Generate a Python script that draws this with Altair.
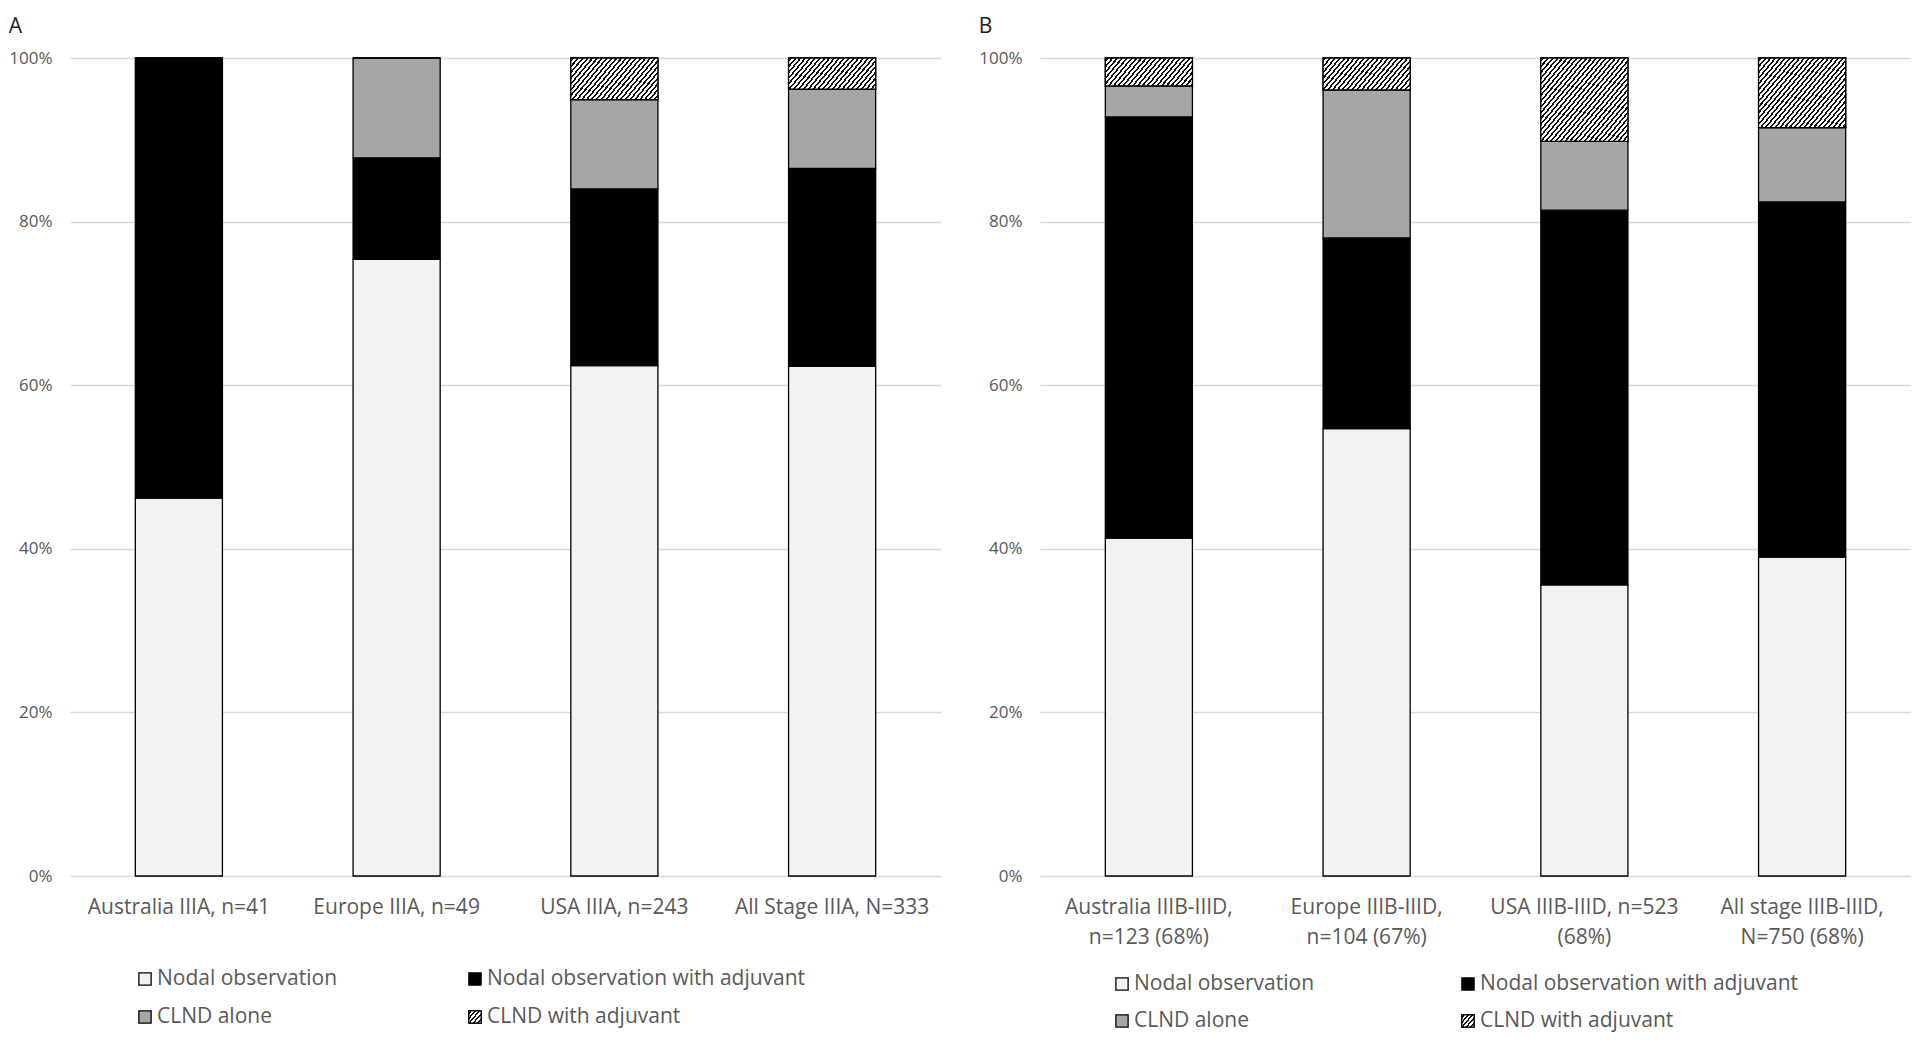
import math
import altair as alt
import pandas as pd

# ---------------- data ----------------
series = ["Nodal observation", "Nodal observation with adjuvant", "CLND alone", "CLND with adjuvant"]
fills = ["#F2F2F2", "#000000", "#A6A6A6", "#FFFFFF"]

cats_A = ["Australia IIIA, n=41", "Europe IIIA, n=49", "USA IIIA, n=243", "All Stage IIIA, N=333"]
obs_A = [46.2, 75.4, 62.4, 62.3]
adj_A = [53.8, 12.4, 21.6, 24.2]
clnd_A = [0.0, 12.2, 10.9, 9.7]
clnd_adj_A = [0.0, 0.0, 5.1, 3.8]

cats_B = ["Australia IIIB-IIID,\nn=123 (68%)", "Europe IIIB-IIID,\nn=104 (67%)",
          "USA IIIB-IIID, n=523\n(68%)", "All stage IIIB-IIID,\nN=750 (68%)"]
obs_B = [41.3, 54.7, 35.6, 39.0]
adj_B = [51.5, 23.3, 45.8, 43.4]
clnd_B = [3.8, 18.1, 8.4, 9.1]
clnd_adj_B = [3.4, 3.9, 10.2, 8.5]

y_ticks = [0, 20, 40, 60, 80, 100]

# legend layout (column / row index)
leg_col = [0, 1, 0, 1]
leg_row = [0, 0, 1, 1]

# ---------------- style ----------------
W, H = 871, 818
BAR_FRAC = 0.4
FONT = "Open Sans"
TXT = "#595959"
SW = 1.3


def hatch(w, h, period=3.7, dark=0.42, theta_deg=50):
    t = math.radians(theta_deg)
    s, c = math.sin(t), math.cos(t)
    dmax = w * s + h * c
    m = dmax / (w * w * s * s + h * h * c * c)
    gx, gy = m * w * s, m * h * c
    stops = [alt.GradientStop(offset=0, color="white")]
    k = 0
    while k * period < dmax:
        a = (k * period + 0.3 * period) / dmax
        b = (k * period + 0.3 * period + dark * period) / dmax
        a, b = min(a, 1), min(b, 1)
        stops += [alt.GradientStop(offset=a, color="white"),
                  alt.GradientStop(offset=a, color="#111111"),
                  alt.GradientStop(offset=b, color="#111111"),
                  alt.GradientStop(offset=b, color="white")]
        k += 1
    return alt.LinearGradient(gradient="linear", stops=stops, x1=0, y1=0, x2=gx, y2=gy)


def panel(letter, cats, vals, multiline, leg_x, leg_y):
    rows = []
    for i, c in enumerate(cats):
        s = 0.0
        for j, name in enumerate(series):
            v = vals[j][i]
            rows.append(dict(cat=c, series=name, start=s, end=s + v))
            s += v
    df = pd.DataFrame(rows)

    x_axis = dict(title=None, domain=False, ticks=False, labelAngle=0, labelFontSize=21,
                  labelPadding=20, labelLimit=500, labelOverlap=False, labelColor=TXT,
                  labelFont=FONT)
    if multiline:
        x_axis.update(labelExpr="split(datum.label, '\\n')", labelLineHeight=30)
    xs = alt.X("cat:N", sort=cats,
               scale=alt.Scale(domain=cats, paddingInner=0.6, paddingOuter=0.3),
               axis=alt.Axis(**x_axis))
    ys = alt.Y("start:Q", scale=alt.Scale(domain=[0, 100], nice=False),
               axis=alt.Axis(title=None, values=y_ticks, labelExpr="datum.value + '%'",
                             domain=False, ticks=False, grid=True, gridColor="#D9D9D9",
                             gridWidth=1.3, labelFontSize=17, labelPadding=18,
                             labelColor=TXT, labelFont=FONT))
    col = alt.Color("series:N", scale=alt.Scale(domain=series, range=fills), legend=None)

    base = alt.Chart(df).mark_bar(stroke="black", strokeWidth=SW).encode(
        x=xs, y=ys, y2="end:Q", color=col)
    layers = [base]
    bw = BAR_FRAC * W / len(cats)
    for i, c in enumerate(cats):
        v = vals[3][i]
        if v > 0:
            layers.append(
                alt.Chart(df)
                .transform_filter(alt.FieldEqualPredicate(field="cat", equal=c))
                .transform_filter(alt.FieldEqualPredicate(field="series", equal=series[3]))
                .mark_bar(color=hatch(bw, v / 100 * H), stroke="black", strokeWidth=SW)
                .encode(x=xs, y=ys, y2="end:Q")
            )
    bars = alt.layer(*layers)

    ldf = pd.DataFrame(dict(series=series, col=leg_col, row=leg_row))
    lx = alt.X("col:Q", scale=alt.Scale(domain=[0, 1], range=leg_x), axis=None)
    ly = alt.Y("row:Q", scale=alt.Scale(domain=[0, 1], range=leg_y), axis=None)
    sq = alt.Chart(ldf).mark_square(size=150, filled=True, opacity=1, stroke="black",
                                    strokeWidth=SW).encode(x=lx, y=ly, color=col)
    sq_h = (alt.Chart(ldf)
            .transform_filter(alt.FieldEqualPredicate(field="series", equal=series[3]))
            .mark_square(size=150, filled=True, opacity=1, color=hatch(12.2, 12.2, period=3.2),
                         stroke="black", strokeWidth=SW)
            .encode(x=lx, y=ly))
    txt = alt.Chart(ldf).mark_text(align="left", baseline="middle", dx=12, fontSize=21,
                                   font=FONT, color=TXT).encode(x=lx, y=ly, text="series:N")
    legend = alt.layer(sq, sq_h, txt)

    return (alt.layer(bars, legend)
            .resolve_scale(x="independent", y="independent")
            .properties(width=W, height=H,
                        title=alt.TitleParams(text=letter, anchor="start", fontSize=21,
                                              font=FONT, fontWeight="normal", color="#222222",
                                              offset=12)))


pA = panel("A", cats_A, [obs_A, adj_A, clnd_A, clnd_adj_A], False,
           [75, 405], [H + 103, H + 141])
pB = panel("B", cats_B, [obs_B, adj_B, clnd_B, clnd_adj_B], True,
           [82, 428], [H + 108, H + 145])

chart = (alt.hconcat(pA, pB, spacing=37)
         .properties(padding={"top": 8, "bottom": 3, "left": 0, "right": 0})
         .configure_view(stroke=None))

chart.save("out.html", embed_options={"renderer": "svg", "actions": False})
